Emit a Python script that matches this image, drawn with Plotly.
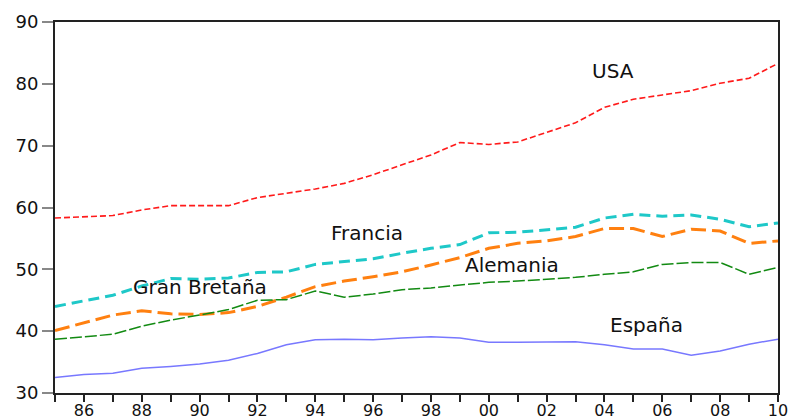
import plotly.graph_objects as go

years = list(range(1985, 2011))

usa = [58.3, 58.5, 58.7, 59.6, 60.3, 60.3, 60.3, 61.6, 62.3, 63.0, 63.9, 65.3, 66.9, 68.5,
       70.5, 70.2, 70.6, 72.2, 73.7, 76.2, 77.5, 78.2, 78.9, 80.1, 80.9, 83.3]
francia = [44.0, 44.9, 45.8, 47.3, 48.5, 48.4, 48.6, 49.5, 49.6, 50.8, 51.2, 51.7, 52.6, 53.4,
           54.0, 55.9, 56.0, 56.4, 56.8, 58.3, 58.9, 58.6, 58.8, 58.1, 56.9, 57.5]
gran_bretana = [40.1, 41.4, 42.6, 43.3, 42.8, 42.7, 43.0, 44.0, 45.5, 47.2, 48.1, 48.8, 49.6, 50.7,
                51.9, 53.4, 54.2, 54.6, 55.3, 56.6, 56.6, 55.3, 56.5, 56.2, 54.2, 54.6]
alemania = [38.7, 39.1, 39.5, 40.8, 41.8, 42.6, 43.5, 45.0, 45.1, 46.5, 45.5, 46.0, 46.7, 47.0,
            47.5, 47.9, 48.1, 48.4, 48.7, 49.2, 49.6, 50.8, 51.1, 51.1, 49.2, 50.3]
espana = [32.5, 33.0, 33.2, 34.0, 34.3, 34.7, 35.3, 36.4, 37.8, 38.6, 38.7, 38.6, 38.9, 39.1,
          38.9, 38.2, 38.2, 38.3, 38.3, 37.8, 37.1, 37.1, 36.1, 36.8, 37.9, 38.7]

label_text = ["USA", "Francia", "Alemania", "Gran Bretaña", "España"]
label_x = [2004.3, 1995.8, 2000.8, 1990.0, 2005.45]
label_y = [82.0, 55.9, 50.7, 47.1, 41.0]

tick_vals = years
tick_text = [f"{y % 100:02d}" if y % 2 == 0 else "" for y in years]
y_ticks = [30, 40, 50, 60, 70, 80, 90]

fig = go.Figure()
fig.add_trace(go.Scatter(x=years, y=usa, mode="lines", name="USA",
                         line=dict(color="#ff1a1a", width=1.6, dash="6px,3px")))
fig.add_trace(go.Scatter(x=years, y=francia, mode="lines", name="Francia",
                         line=dict(color="#1ec8c8", width=3, dash="11px,6px")))
fig.add_trace(go.Scatter(x=years, y=gran_bretana, mode="lines", name="Gran Bretaña",
                         line=dict(color="#ff8010", width=3, dash="15px,6px")))
fig.add_trace(go.Scatter(x=years, y=alemania, mode="lines", name="Alemania",
                         line=dict(color="#128a12", width=1.5, dash="12px,3px")))
fig.add_trace(go.Scatter(x=years, y=espana, mode="lines", name="España",
                         line=dict(color="#7878ff", width=1.5)))

for t, x, y in zip(label_text, label_x, label_y):
    fig.add_annotation(x=x, y=y, text=t, showarrow=False,
                       font=dict(family="DejaVu Sans, Arial", size=20, color="#111111"),
                       xanchor="center", yanchor="middle")

fig.update_layout(
    width=792, height=420,
    margin=dict(l=55, r=14, t=22, b=27, autoexpand=False),
    paper_bgcolor="white", plot_bgcolor="white",
    showlegend=False,
    font=dict(family="DejaVu Sans, Arial", size=18, color="#111111"),
)
fig.update_xaxes(range=[1985, 2010], tickmode="array", tickvals=tick_vals, ticktext=tick_text,
                 ticks="outside", ticklen=7, tickwidth=1.5, tickcolor="#222222",
                 showgrid=False, zeroline=False, showline=True, linecolor="#222222",
                 linewidth=2, mirror=True, tickfont=dict(size=16), automargin=False,
                 ticklabelstandoff=-5)
fig.update_yaxes(range=[30, 90], tickmode="array", tickvals=y_ticks,
                 ticks="outside", ticklen=11, tickwidth=1.5, tickcolor="#888888",
                 showgrid=False, zeroline=False, showline=True, linecolor="#222222",
                 linewidth=2, mirror=True, tickfont=dict(size=18), automargin=False)

fig.write_html("out.html", config={"displayModeBar": False},
               post_script="document.body.style.margin='0';document.body.style.overflow='hidden';")
